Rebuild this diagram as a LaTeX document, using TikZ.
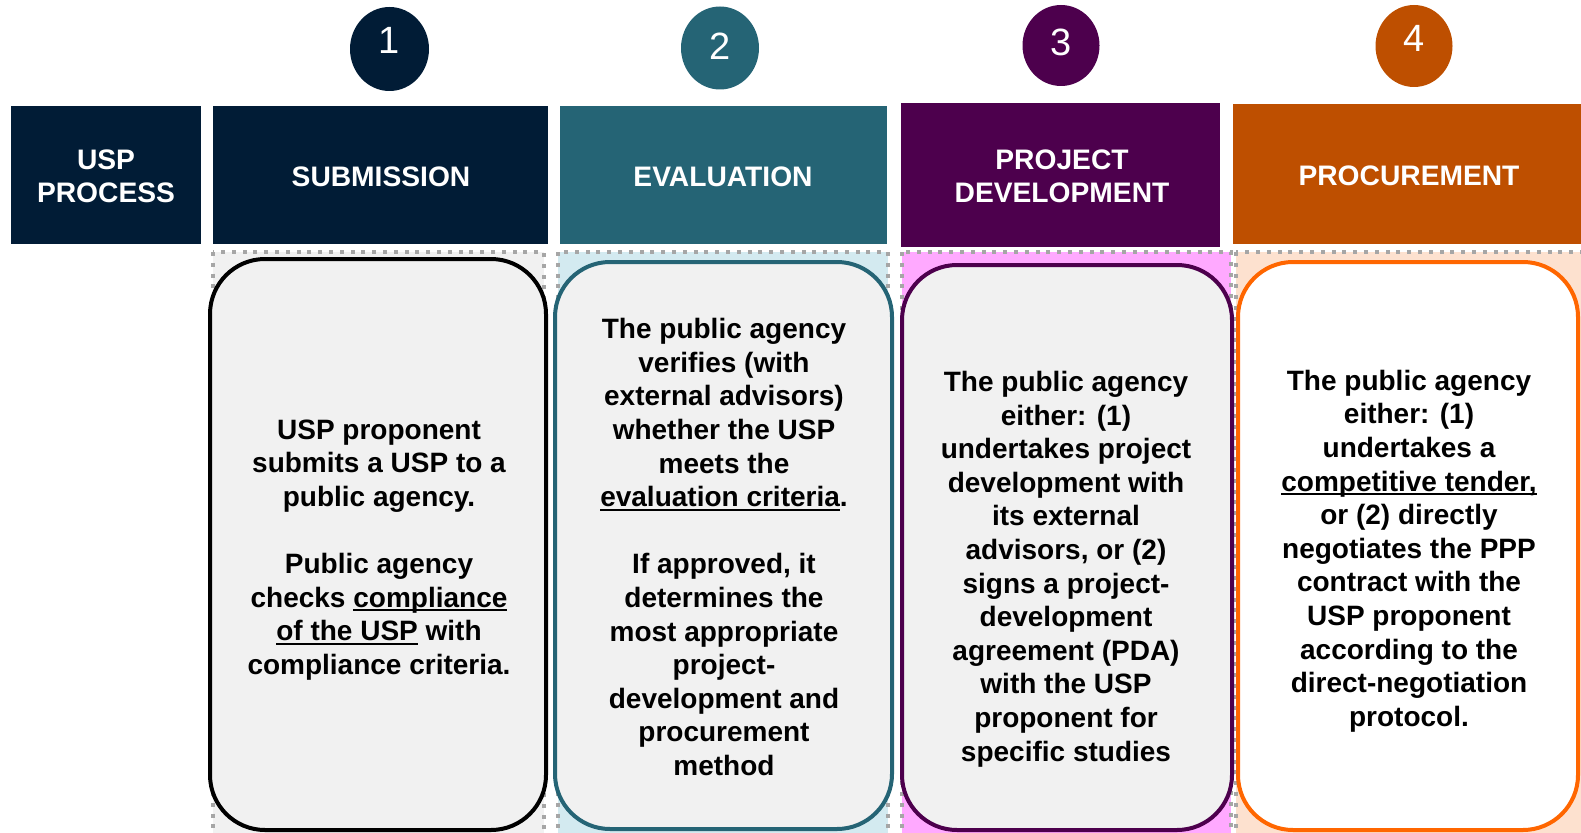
\documentclass[tikz,border=0pt]{standalone}
\usepackage{fontspec}
\setmainfont{Liberation Sans}
\usetikzlibrary{shapes.geometric}
\definecolor{navy}{HTML}{011C36}
\definecolor{teal}{HTML}{256475}
\definecolor{purp}{HTML}{4D004D}
\definecolor{brorange}{HTML}{BE4F00}
\definecolor{lblue}{HTML}{D3EAF0}
\definecolor{lpink}{HTML}{FFA9FF}
\definecolor{lpeach}{HTML}{FDE1CF}
\definecolor{dotgray}{HTML}{A6A6A6}
\definecolor{boxgray}{HTML}{F1F1F1}
\definecolor{brightorange}{HTML}{FF6600}
\newcommand\ulx[1]{\setbox0\hbox{#1}\rlap{\rule[-4pt]{\wd0}{2pt}}\box0}
\tikzset{
  hdr/.style={rectangle, inner sep=0pt, text=white, align=center,
    font=\bfseries\fontsize{28.2}{33}\selectfont},
  numc/.style={ellipse, inner sep=0pt},
  numt/.style={inner sep=0pt, text=white, font=\fontsize{38}{40}\selectfont},
  colzone/.style={draw=dotgray, line width=4pt, dash pattern=on 4pt off 6.8pt},
  rbox/.style={line width=4pt, rounded corners=55pt},
  body/.style={align=center, inner sep=0pt, font=\bfseries\fontsize{28}{33.6}\selectfont}
}
\begin{document}
\begin{tikzpicture}[x=1pt,y=-1pt]
\useasboundingbox (0,0) rectangle (1581,832);
% header boxes
\node[hdr, fill=navy, minimum width=190pt, minimum height=138pt] (usp) at (106,175) {};
\node[hdr] (usptext) at (106,176) {USP\\PROCESS};
\node[hdr, fill=navy, minimum width=335pt, minimum height=138pt] (sub) at (380.5,175) {};
\node[hdr] (subtext) at (381,177) {SUBMISSION};
\node[hdr, fill=teal, minimum width=327pt, minimum height=138pt] (eval) at (723.5,175) {};
\node[hdr] (evaltext) at (723,177) {EVALUATION};
\node[hdr, fill=purp, minimum width=319pt, minimum height=144pt] (pd) at (1060.5,175) {};
\node[hdr] (pdtext) at (1062,176) {PROJECT\\DEVELOPMENT};
\node[hdr, fill=brorange, minimum width=352pt, minimum height=140pt] (proc) at (1409,174) {};
\node[hdr] (proctext) at (1409,176) {PROCUREMENT};
% circles
\node[numc, fill=navy, minimum width=79pt, minimum height=84pt] (c1) at (389.5,49) {};
\node[numt] (n1) at (389.5,40.5) {1};
\node[numc, fill=teal, minimum width=78pt, minimum height=83pt] (c2) at (720,48) {};
\node[numt] (n2) at (720,46) {2};
\node[numc, fill=purp, minimum width=77pt, minimum height=81pt] (c3) at (1061,45.5) {};
\node[numt] (n3) at (1061,42) {3};
\node[numc, fill=brorange, minimum width=77pt, minimum height=82pt] (c4) at (1414,46) {};
\node[numt] (n4) at (1414,38.5) {4};
% dotted column zones
\filldraw[colzone, fill=boxgray] (213,252) rectangle (544,845);
\filldraw[colzone, fill=lblue] (558,252) rectangle (888,845);
\filldraw[colzone, fill=lpink] (902,252) rectangle (1231,845);
\filldraw[colzone, fill=lpeach] (1236,252) rectangle (1600,845);
% rounded boxes
\filldraw[rbox, draw=black, fill=boxgray] (210,259) rectangle (546,830);
\filldraw[rbox, draw=teal, fill=boxgray] (555,262) rectangle (892,829);
\filldraw[rbox, draw=purp, fill=boxgray] (902,265) rectangle (1232,830);
\filldraw[rbox, draw=brightorange, fill=white] (1238,262) rectangle (1578,830);
% texts
\node[body] (t1) at (379,550) {USP proponent\\submits a USP to a\\public agency.\\[33.6pt]Public agency\\checks \ulx{compliance}\\\ulx{of the USP}\ with\\compliance criteria.};
\node[body] (t2) at (724,547) {The public agency\\verifies (with\\external advisors)\\whether the USP\\meets the\\\ulx{evaluation criteria}.\\[33.6pt]If approved, it\\determines the\\most appropriate\\project-\\development and\\procurement\\method};
\node[body] (t3) at (1066,569) {The public agency\\either: (1)\\undertakes project\\development with\\its external\\advisors, or (2)\\signs a project-\\development\\agreement (PDA)\\with the USP\\proponent for\\specific studies};
\node[body] (t4) at (1409,551) {The public agency\\either: (1)\\undertakes a\\\ulx{competitive tender,}\\or (2) directly\\negotiates the PPP\\contract with the\\USP proponent\\according to the\\direct-negotiation\\protocol.};
\end{tikzpicture}
\end{document}
